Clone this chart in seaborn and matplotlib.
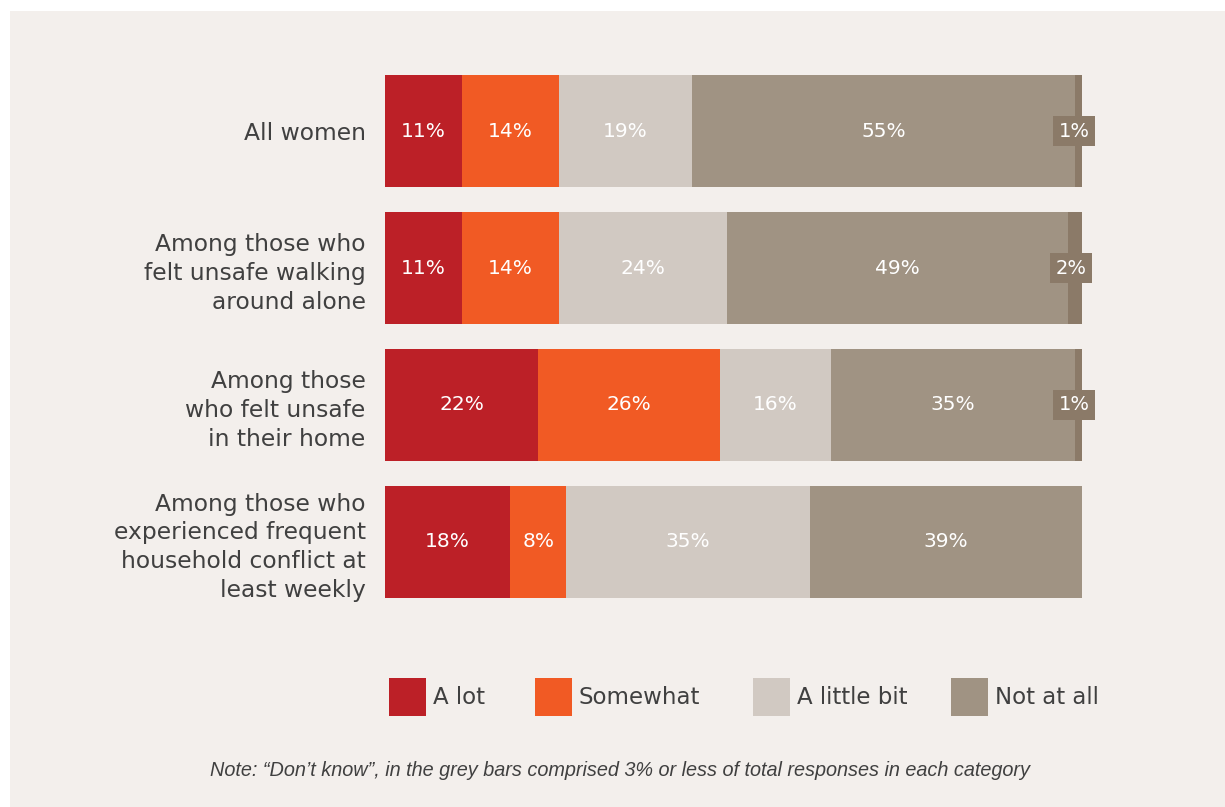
import matplotlib
matplotlib.use("Agg")
import matplotlib.pyplot as plt
from matplotlib.patches import Rectangle, Patch
import seaborn as sns
import pandas as pd
import numpy as np

# ---- data ----
categories = [
    "All women",
    "Among those who\nfelt unsafe walking\naround alone",
    "Among those\nwho felt unsafe\nin their home",
    "Among those who\nexperienced frequent\nhousehold conflict at\nleast weekly",
]
a_lot = [11, 11, 22, 18]
somewhat = [14, 14, 26, 8]
a_little_bit = [19, 24, 16, 35]
not_at_all = [55, 49, 35, 39]
dont_know = [1, 2, 1, 0]
series_names = ["A lot", "Somewhat", "A little bit", "Not at all"]

# ---- style ----
sns.set_theme(style="white")
plt.rcParams["font.family"] = ["DejaVu Sans"]

BG = "#F3EFEC"
TXT = "#404040"
colors = ["#BC2027", "#F15A24", "#D1C9C2", "#A09383"]
dk_color = "#8B7A68"

fig = plt.figure(figsize=(12.25, 8.07), dpi=100)
fig.patch.set_facecolor("white")
fig.patches.append(Rectangle((10 / 1225, 0), 1 - 10 / 1225, 1 - 11 / 807,
                             transform=fig.transFigure, facecolor=BG,
                             edgecolor="none", zorder=-10))

ax = fig.add_axes([385 / 1225, 1 - 598 / 807, 697 / 1225, 523 / 807])
ax.set_facecolor("none")
ax.set_zorder(1)

series = [a_lot, somewhat, a_little_bit, not_at_all, dont_know]
seg_colors = colors + [dk_color]
cum = np.cumsum(np.array(series, dtype=float), axis=0)  # shape (5, n)

df = pd.DataFrame({"category": categories})
for i in range(len(series) - 1, -1, -1):
    df["val"] = cum[i]
    sns.barplot(data=df, x="val", y="category", orient="h", color=seg_colors[i],
                saturation=1, width=0.82, linewidth=0, edgecolor="none",
                order=categories, ax=ax, errorbar=None)

# value labels
for r in range(len(categories)):
    for i in range(len(series)):
        v = series[i][r]
        if v <= 0:
            continue
        start = cum[i][r] - v
        xc = start + v / 2
        if i < 4:
            ax.text(xc, r, f"{v}%", ha="center", va="center", color="white",
                    fontsize=14.5)
        else:
            ax.text(xc - 0.6, r, f"{v}%", ha="center", va="center", color="white",
                    fontsize=14,
                    bbox=dict(boxstyle="square,pad=0.28", facecolor=dk_color,
                              edgecolor="none"))

ax.set_xlim(0, 100)
ax.set_ylim(3.41, -0.41)
ax.set_xlabel("")
ax.set_ylabel("")
ax.set_xticks([])
for s in ax.spines.values():
    s.set_visible(False)
ax.tick_params(axis="y", length=0, pad=14)
for lab in ax.get_yticklabels():
    lab.set_fontsize(16.8)
    lab.set_color(TXT)
    lab.set_linespacing(1.32)
    lab.set_multialignment("right")

# legend: one entry per position, as in the reference layout
leg_x = [389, 535, 753, 951]
for c, n, x in zip(colors, series_names, leg_x):
    leg = fig.legend(handles=[Patch(facecolor=c, edgecolor="none", label=n)],
                     loc="center left", bbox_to_anchor=(x / 1225, 1 - 697 / 807),
                     frameon=False, fontsize=16.5, handlelength=1.6,
                     handleheight=2.2, handletextpad=0.3,
                     borderpad=0, borderaxespad=0)
    for t in leg.get_texts():
        t.set_color(TXT)

fig.text(620 / 1225, 1 - 770 / 807,
         "Note: \u201cDon\u2019t know\u201d, in the grey bars comprised 3% or less of total responses in each category",
         ha="center", va="center", fontsize=14.3, style="italic", color=TXT,
         family=["Liberation Sans Narrow", "Liberation Sans", "DejaVu Sans"])

fig.savefig("out.png", dpi=100, facecolor=fig.get_facecolor())
